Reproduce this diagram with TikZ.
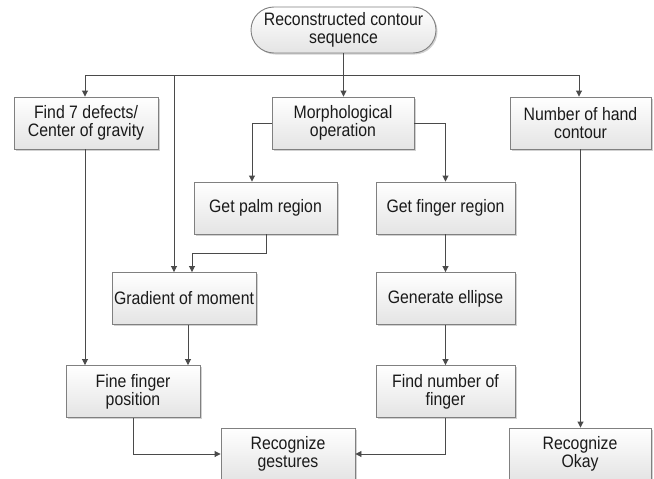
\documentclass[tikz,border=0pt]{standalone}
\usepackage{fontspec}
\setmainfont{Liberation Sans}[FakeStretch=0.88]
\usetikzlibrary{arrows.meta,shadows}
\definecolor{boxline}{HTML}{808080}
\definecolor{conline}{HTML}{4A4A4A}
\definecolor{boxbot}{HTML}{E4E4E4}
\definecolor{txt}{HTML}{1A1A1A}
\tikzset{
  box/.style={draw=boxline, line width=0.9pt, top color=white, bottom color=boxbot,
    minimum width=#1, minimum height=52pt, align=center, inner sep=0pt,
    font=\fontsize{18}{18}\selectfont, text=txt,
    drop shadow={shadow xshift=1.5pt, shadow yshift=-1.5pt, fill=black!18, opacity=1}},
  terminal/.style={box=185pt, minimum height=46pt, rounded corners=23pt},
  conn/.style={draw=conline, line width=0.9pt, -{Triangle[length=6pt,width=6pt]}},
  plain/.style={draw=conline, line width=0.9pt}
}
\begin{document}
\begin{tikzpicture}[x=1pt,y=-1pt]
\useasboundingbox (0,0) rectangle (654,479);
\clip (0,0) rectangle (654,479);
\fill[white] (0,0) rectangle (654,479);
\node[terminal] (top) at (343.5,30) {Reconstructed contour\\sequence};
\node[box=144pt] (find7) at (86,123) {Find 7 defects/\\Center of gravity};
\node[box=142pt] (morph) at (343,123) {Morphological\\operation};
\node[box=141pt] (num) at (580.5,123) {Number of hand\\contour};
\node[box=143pt] (palm) at (265.5,208) {Get palm region};
\node[box=139pt] (fing) at (445.5,208) {Get finger region};
\node[box=144pt] (grad) at (184,298.5) {Gradient of moment};
\node[box=139pt] (ell) at (445.5,298.5) {Generate ellipse};
\node[box=134pt] (fine) at (133,391.5) {Fine finger\\position};
\node[box=139pt] (fnum) at (445.5,391.5) {Find number of\\finger};
\node[box=134pt] (rges) at (288,454) {Recognize\\gestures};
\node[box=142pt] (rok) at (580,454) {Recognize\\Okay};
\coordinate (hl) at (85,75);
\coordinate (hr) at (579,75);
\coordinate (hg) at (174,75);
\draw[plain] (hl) -- (hr);
\draw[conn] (top.south) -- (top.south |- morph.north);
\draw[conn] (hl) -- (hl |- find7.north);
\draw[conn] (hr) -- (hr |- num.north);
\draw[conn] (hg) -- (hg |- grad.north);
\draw[conn] (morph.west) -| ([xshift=-13.5pt]palm.north);
\draw[conn] (morph.east) -| (fing.north);
\draw[conn] ([xshift=-1pt]find7.south) -- ([xshift=-1pt]find7.south |- fine.north);
\draw[conn] ([xshift=0.5pt]palm.south) -- ++(0,19) -| ([xshift=8pt]grad.north);
\draw[conn] ([xshift=4pt]grad.south) -- ([xshift=4pt]grad.south |- fine.north);
\draw[conn] (fing) -- (ell);
\draw[conn] (ell) -- (fnum);
\draw[conn] (fine.south) |- (rges.west);
\draw[conn] (fnum.south) |- (rges.east);
\draw[conn] (num.south) -- (num.south |- rok.north);
\end{tikzpicture}
\end{document}
